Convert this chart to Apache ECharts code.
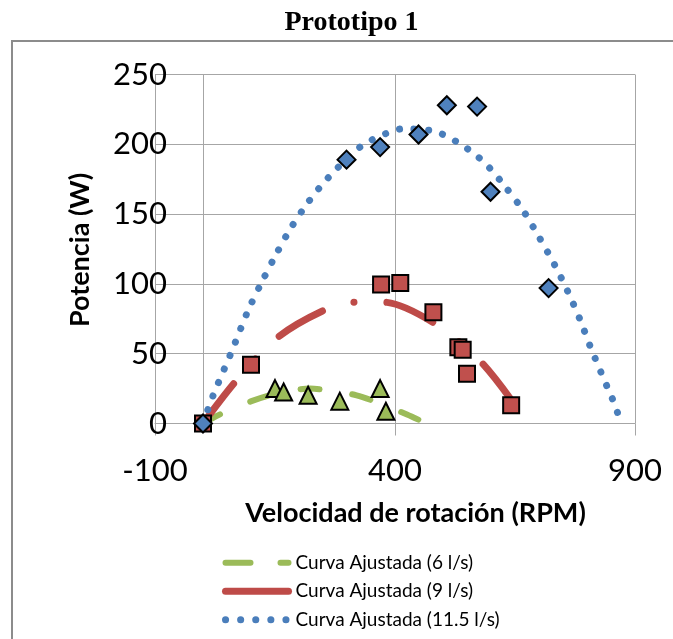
<!DOCTYPE html>
<html>
<head>
<meta charset="utf-8">
<script src="https://cdn.jsdelivr.net/npm/echarts@6/dist/echarts.min.js"></script>
<style>html,body{margin:0;padding:0;background:#fff}#c{width:673px;height:639px}</style>
</head>
<body>
<div id="c"></div>
<script>
// ---- Data ----
const xTicks = [-100, 400, 900];
const yTicks = [0, 50, 100, 150, 200, 250];

// measured points, 6 l/s (triangles)
const p6x = [150, 168, 219, 285, 369, 381];
const p6y = [25, 22.6, 20.2, 16, 25, 8.8];
// measured points, 9 l/s (squares)
const p9x = [0, 100, 371, 411, 480, 532, 541, 550, 642];
const p9y = [0, 42, 99.5, 100.7, 79.7, 54.7, 52.8, 35.7, 13];
// measured points, 11.5 l/s (diamonds)
const p115x = [0, 299, 369, 449, 508, 571, 599, 720];
const p115y = [0, 189, 198, 207, 228, 227, 166, 97];

// fitted curves
const f6x = [0, 42, 101, 153, 223, 258, 320, 369, 425, 463];
const f6y = [0, 7.6, 16, 21.4, 25, 23.8, 20.2, 14.3, 6.4, 0.5];
const f9x = [0, 70, 157, 254, 315, 376, 484, 578, 642];
const f9y = [0, 31, 62, 81.4, 86.9, 86.9, 71.4, 44.5, 17];
const f115x = [0, 21, 59, 94, 122, 152, 183, 218, 258, 327, 383, 414, 480, 537, 586, 630, 668, 701, 732, 760, 786, 807, 846, 858, 868];
const f115y = [0, 20, 51, 81, 101, 121, 140, 158, 175, 198, 208, 211, 209.5, 200, 187, 169.5, 152, 133, 114, 94.5, 74, 55, 23, 13.5, 2.8];

const names = ['Curva Ajustada (6 l/s)', 'Curva Ajustada (9 l/s)', 'Curva Ajustada (11.5 l/s)'];
const titleText = 'Prototipo 1';
const xTitle = 'Velocidad de rotación (RPM)';
const yTitle = 'Potencia (W)';

const zip = (a, b) => a.map((v, i) => [v, b[i]]);

const GREEN = '#9BBB59', RED = '#BE4B48', BLUE = '#4A7EBB';
const GRID = '#a6a6a6';
const LAB = {fontFamily: 'Lato', fontSize: 31, color: '#000'};
const NOSYM = {opacity: 0, borderWidth: 0};

const chart = echarts.init(document.getElementById('c'), null, {renderer: 'canvas'});
chart.setOption({
  animation: false,
  backgroundColor: '#fff',
  grid: {left: 155, top: 74.5, width: 480, height: 349, containLabel: false},
  xAxis: {
    type: 'value', min: xTicks[0], max: xTicks[xTicks.length - 1], interval: xTicks[1] - xTicks[0],
    axisLine: {show: true, lineStyle: {color: GRID, width: 1}},
    axisTick: {show: true, length: 12, lineStyle: {color: GRID}},
    splitLine: {show: true, lineStyle: {color: GRID, width: 1}},
    axisLabel: Object.assign({margin: 32}, LAB)
  },
  yAxis: {
    type: 'value', min: yTicks[0], max: yTicks[yTicks.length - 1], interval: yTicks[1] - yTicks[0],
    axisLine: {show: false}, axisTick: {show: false},
    splitLine: {show: true, lineStyle: {color: GRID, width: 1}},
    axisLabel: Object.assign({margin: -12}, LAB)
  },
  legend: {
    orient: 'vertical', left: 222, top: 553, padding: 0,
    itemWidth: 63, itemHeight: 14, itemGap: 9,
    textStyle: {fontFamily: 'Lato', fontSize: 19, lineHeight: 19.5, color: '#000', padding: [0, 0, 0, 2]},
    data: [
      {name: names[0], itemStyle: NOSYM, lineStyle: {color: GREEN, width: 6, type: [25, 30], cap: 'round'}},
      {name: names[1], itemStyle: NOSYM, lineStyle: {color: RED, width: 7, type: 'solid', cap: 'round'}},
      {name: names[2], itemStyle: NOSYM, lineStyle: {color: BLUE, width: 7, type: [0.1, 15], cap: 'round'}}
    ]
  },
  graphic: [
    {type: 'rect', shape: {x: 12, y: 41, width: 720, height: 700}, style: {fill: 'none', stroke: '#8c8c8c', lineWidth: 2}, silent: true},
    {type: 'text', x: 351.5, y: 23, style: {text: titleText, font: 'bold 28px "Liberation Serif"', fill: '#000', textAlign: 'center', textVerticalAlign: 'middle'}},
    {type: 'text', x: 415.5, y: 513, style: {text: xTitle, font: 'bold 27px Lato', fill: '#000', textAlign: 'center', textVerticalAlign: 'middle'}},
    {type: 'text', x: 80, y: 250, rotation: Math.PI / 2, style: {text: yTitle, font: 'bold 27px Lato', fill: '#000', textAlign: 'center', textVerticalAlign: 'middle'}}
  ],
  series: [
    {
      name: names[0], type: 'line', data: zip(f6x, f6y), smooth: 0.3, showSymbol: false, symbol: 'none', z: 2,
      lineStyle: {color: GREEN, width: 6, type: [19, 33], cap: 'round'}, itemStyle: {color: GREEN}
    },
    {
      name: names[1], type: 'line', data: zip(f9x, f9y), smooth: 0.3, showSymbol: false, symbol: 'none', z: 2,
      lineStyle: {color: RED, width: 7, type: [50, 33, 0.1, 33], cap: 'round'}, itemStyle: {color: RED}
    },
    {
      name: names[2], type: 'line', data: zip(f115x, f115y), smooth: 0.3, showSymbol: false, symbol: 'none', z: 2,
      lineStyle: {color: BLUE, width: 7, type: [0.1, 14.5], cap: 'round'}, itemStyle: {color: BLUE},
      markLine: {silent: true, symbol: 'none', label: {show: false}, animation: false,
        lineStyle: {color: GRID, type: 'solid', width: 1}, data: [{xAxis: 0}]}
    },
    {
      name: 'Datos 6 l/s', type: 'scatter', data: zip(p6x, p6y), symbol: 'triangle', symbolSize: 17, z: 4,
      itemStyle: {color: GREEN, borderColor: '#000', borderWidth: 2, opacity: 1}
    },
    {
      name: 'Datos 9 l/s', type: 'scatter', data: zip(p9x, p9y), symbol: 'rect', symbolSize: 16, z: 5,
      itemStyle: {color: '#C0504D', borderColor: '#000', borderWidth: 2, opacity: 1}
    },
    {
      name: 'Datos 11.5 l/s', type: 'scatter', data: zip(p115x, p115y), symbol: 'diamond', symbolSize: 18, z: 6,
      itemStyle: {color: '#4F81BD', borderColor: '#000', borderWidth: 2, opacity: 1}
    }
  ]
});
</script>
</body>
</html>
